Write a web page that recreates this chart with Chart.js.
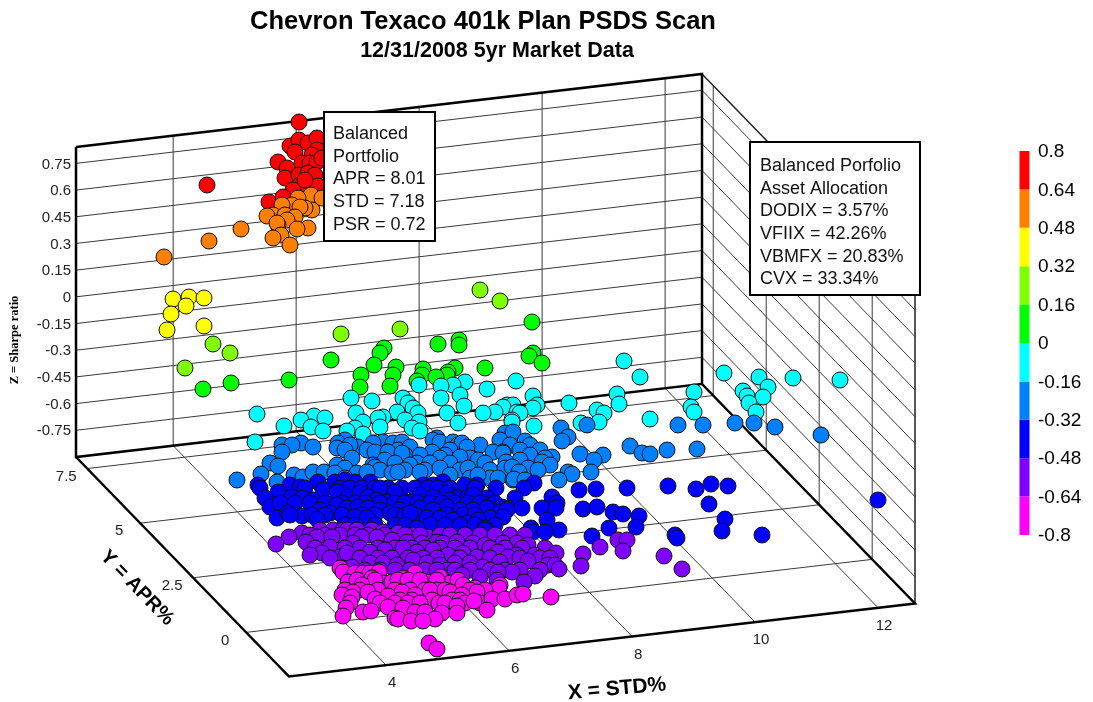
<!DOCTYPE html>
<html>
<head>
<meta charset="utf-8">
<title>Chevron Texaco 401k Plan PSDS Scan</title>
<script src="https://cdn.jsdelivr.net/npm/chart.js@4"></script>
<style>
html, body { margin: 0; padding: 0; background: #fff; }
canvas { display: block; }
</style>
</head>
<body>
<canvas id="scan" width="1093" height="702"></canvas>
<script>
// tick labels of the three axes
var xTicks = [4, 6, 8, 10, 12];
var yTicks = [0, 2.5, 5, 7.5];
var zTicks = [0.75, 0.6, 0.45, 0.3, 0.15, 0, -0.15, -0.3, -0.45, -0.6, -0.75];

// colour scale
var bandLabels = ['0.8', '0.64', '0.48', '0.32', '0.16', '0', '-0.16', '-0.32', '-0.48', '-0.64', '-0.8'];
var bandColors = ['#ff0000', '#ff8000', '#ffff00', '#80ff00', '#00ff00', '#00ffff', '#0080ff', '#0000ff', '#8000ff', '#ff00ff'];

// portfolios as they sit on the projected plane, one list per colour band
var redPoints = [[299,122],[207,185],[290,146],[299,140],[308,143],[317,138],[295,152],[317,150],[312,155],[278,162],[287,168],[302,163],[310,163],[317,162],[322,158],[285,178],[299,175],[308,173],[315,175],[300,185],[318,186],[293,190],[305,180],[269,202],[283,197]];
var orangePoints = [[164,257],[209,241],[241,229],[311,195],[322,198],[298,198],[292,205],[282,205],[312,210],[305,208],[300,207],[273,215],[285,215],[295,217],[267,216],[287,220],[278,225],[277,223],[281,235],[308,228],[297,229],[273,238],[290,245]];
var yellowPoints = [[189,297],[204,298],[173,299],[186,306],[171,314],[204,326],[167,330]];
var limePoints = [[480,290],[500,301],[341,334],[400,329],[213,344],[230,353],[185,368]];
var greenPoints = [[532,322],[459,340],[459,345],[438,344],[384,348],[380,353],[331,360],[374,365],[533,353],[529,356],[542,363],[396,367],[393,375],[455,368],[448,372],[447,375],[485,368],[423,369],[422,375],[436,377],[361,375],[289,380],[417,381],[231,383],[390,386],[360,387],[203,389]];
var cyanPoints = [[624,361],[724,373],[840,380],[793,378],[759,377],[640,377],[768,387],[743,391],[516,381],[465,382],[453,385],[419,385],[441,386],[487,389],[617,394],[694,392],[747,396],[763,397],[533,396],[460,395],[351,398],[441,398],[372,401],[403,398],[408,403],[569,403],[749,403],[619,404],[507,405],[513,405],[537,405],[464,406],[503,407],[533,408],[413,408],[691,407],[597,410],[694,412],[756,412],[495,412],[517,412],[483,413],[397,412],[447,413],[356,413],[257,414],[418,413],[604,413],[520,413],[314,416],[383,417],[378,418],[325,418],[301,420],[650,419],[405,420],[419,422],[512,420],[512,422],[599,422],[581,423],[363,422],[458,423],[284,426],[380,427],[534,426],[311,427],[355,428],[412,428],[323,431],[347,431],[420,431],[363,434],[255,442]];
var azurePoints = [[587,425],[561,428],[678,425],[703,425],[735,423],[754,423],[775,427],[505,433],[513,432],[821,435],[568,437],[562,441],[525,441],[437,438],[433,440],[440,442],[345,440],[383,442],[393,443],[402,442],[373,443],[301,443],[282,445],[292,445],[453,442],[458,445],[462,443],[500,440],[510,445],[480,445],[530,445],[630,446],[282,452],[313,447],[338,443],[337,448],[358,447],[350,445],[345,450],[367,450],[387,452],[375,452],[398,450],[410,447],[450,450],[432,452],[467,447],[520,450],[540,450],[642,453],[650,454],[667,450],[697,449],[580,454],[603,455],[552,457],[545,458],[530,455],[503,452],[493,452],[503,453],[405,455],[388,452],[402,453],[445,455],[470,458],[440,458],[594,460],[420,455],[352,458],[460,457],[478,460],[520,460],[385,460],[542,462],[506,462],[270,463],[278,466],[337,465],[395,463],[417,463],[430,463],[450,463],[485,463],[410,465],[550,465],[373,465],[375,467],[425,470],[490,470],[261,474],[294,475],[303,477],[313,472],[324,472],[345,468],[380,470],[405,470],[440,468],[460,470],[468,468],[505,468],[512,467],[528,468],[538,470],[519,472],[335,473],[357,473],[367,472],[392,473],[398,472],[420,472],[450,475],[345,478],[470,478],[490,478],[478,475],[498,478],[513,480],[514,479],[525,480],[568,472],[572,474],[591,472],[559,480],[237,480],[277,482]];
var bluePoints = [[258,485],[260,488],[290,485],[300,487],[278,492],[318,482],[335,482],[345,480],[355,482],[370,482],[423,485],[433,485],[443,482],[465,485],[477,485],[496,488],[534,483],[524,488],[305,488],[340,488],[350,488],[362,488],[375,488],[388,488],[402,488],[415,488],[428,488],[438,488],[450,488],[475,488],[579,490],[596,489],[627,488],[668,486],[696,489],[711,484],[728,486],[380,488],[323,490],[265,498],[292,497],[303,498],[337,492],[348,497],[360,493],[368,497],[395,492],[420,495],[433,497],[447,493],[457,498],[468,497],[473,495],[487,498],[515,498],[552,497],[878,500],[270,507],[313,500],[377,500],[387,502],[410,502],[450,500],[483,503],[280,503],[295,503],[310,503],[325,503],[342,503],[355,503],[365,503],[380,503],[395,503],[405,503],[418,503],[430,503],[442,503],[455,503],[468,503],[480,503],[495,503],[557,503],[709,504],[337,505],[347,508],[358,507],[368,508],[420,508],[447,507],[487,508],[502,507],[508,508],[522,508],[583,509],[597,507],[542,508],[556,508],[277,518],[288,513],[302,516],[320,510],[330,513],[380,510],[390,513],[400,510],[433,510],[460,510],[473,510],[500,512],[507,510],[613,512],[623,514],[639,516],[290,515],[312,515],[325,515],[342,515],[362,515],[375,515],[395,515],[405,515],[415,515],[447,515],[463,515],[475,515],[490,518],[503,517],[317,519],[355,517],[367,518],[410,513],[427,518],[440,518],[453,520],[478,520],[725,519],[547,520],[467,523],[345,525],[355,525],[375,525],[395,525],[405,525],[430,525],[445,525],[460,525],[475,525],[495,525],[636,527],[609,528],[485,528],[417,528],[531,528],[533,532],[559,530],[722,531],[485,530],[545,532],[592,536],[675,535],[677,538],[762,535]];
var violetPoints = [[320,530],[333,530],[343,530],[347,530],[357,530],[372,530],[383,532],[398,533],[413,535],[428,537],[302,533],[310,535],[325,535],[340,535],[355,535],[368,535],[385,535],[405,535],[420,535],[440,535],[450,535],[465,535],[480,535],[495,535],[510,535],[525,535],[317,537],[332,537],[362,537],[377,537],[392,540],[407,542],[422,543],[437,542],[443,543],[457,542],[473,543],[485,545],[503,543],[517,543],[528,545],[289,537],[306,542],[276,544],[330,547],[353,543],[315,548],[345,548],[360,548],[378,548],[395,548],[412,548],[425,548],[440,548],[455,548],[470,548],[490,548],[505,548],[522,548],[545,548],[385,550],[403,548],[433,550],[370,552],[417,552],[463,553],[498,552],[535,555],[517,555],[556,553],[340,557],[347,553],[322,553],[310,555],[448,555],[477,557],[508,557],[583,554],[600,547],[618,540],[627,540],[623,551],[664,556],[330,558],[360,558],[378,558],[392,558],[408,558],[423,558],[437,558],[460,558],[490,558],[520,558],[540,558],[550,558],[370,563],[383,563],[413,560],[427,563],[455,563],[470,563],[500,562],[528,561],[352,567],[397,565],[440,565],[483,567],[548,565],[555,565],[559,569],[581,566],[682,569],[447,570],[365,570],[380,570],[395,570],[410,570],[425,570],[437,570],[455,570],[470,570],[490,570],[505,570],[520,570],[540,570],[512,572],[498,572],[462,575],[535,576],[480,577],[497,580],[524,582]];
var magentaPoints = [[340,568],[343,572],[355,573],[363,573],[370,573],[379,572],[415,573],[440,577],[372,578],[403,578],[348,582],[383,583],[392,582],[415,583],[427,582],[450,583],[357,580],[375,580],[398,580],[408,580],[420,580],[437,580],[458,580],[362,585],[463,585],[500,585],[475,588],[499,588],[425,590],[437,590],[345,590],[360,590],[378,590],[395,590],[410,590],[430,590],[445,590],[470,590],[485,590],[353,592],[368,592],[402,592],[450,592],[477,592],[342,595],[415,595],[462,595],[352,597],[388,596],[375,599],[400,600],[412,600],[432,600],[452,600],[460,600],[439,603],[350,603],[380,603],[395,603],[408,603],[420,603],[445,603],[465,603],[480,603],[474,601],[492,599],[505,599],[517,595],[523,594],[551,597],[388,607],[403,608],[457,606],[346,608],[363,612],[371,611],[415,612],[425,612],[487,610],[442,613],[457,613],[343,616],[395,618],[398,619],[435,619],[411,621],[423,621],[429,643],[437,649]];

// axis limits of the box
var xRange = [2.42, 12.6];
var yRange = [-2.02, 8.03];
var zRange = [-0.9, 0.842];

function project(x, y, z) {
    var u = (x - xRange[0]) / (xRange[1] - xRange[0]);
    var v = (y - yRange[0]) / (yRange[1] - yRange[0]);
    var w = (z - zRange[0]) / (zRange[1] - zRange[0]);
    return {
        x: 289 + u * 626 - v * 213,
        y: 676.5 - u * 73 - v * 219.5 - w * 310
    };
}

// joins box corners into one path, NaN breaks the line between segments
function path(corners) {
    var out = [];
    corners.forEach(function(seg) {
        seg.forEach(function(c) {
            out.push(project(c[0], c[1], c[2]));
        });
        out.push({ x: NaN, y: NaN });
    });
    return out;
}

var x0 = xRange[0], x1 = xRange[1], y0 = yRange[0], y1 = yRange[1], z0 = zRange[0], z1 = zRange[1];

var gridSegs = [];
xTicks.forEach(function(t) {
    gridSegs.push([[t, y0, z0], [t, y1, z0], [t, y1, z1]]);
});
yTicks.forEach(function(t) {
    gridSegs.push([[x0, t, z0], [x1, t, z0], [x1, t, z1]]);
});
zTicks.forEach(function(t) {
    gridSegs.push([[x0, y1, t], [x1, y1, t], [x1, y0, t]]);
});

var heavySegs = [
    [[x0, y1, z1], [x0, y1, z0], [x1, y1, z0], [x1, y1, z1], [x0, y1, z1]],
    [[x0, y1, z0], [x0, y0, z0], [x1, y0, z0], [x1, y1, z0]]
];
var lightSegs = [
    [[x1, y1, z1], [x1, y0, z1], [x1, y0, z0]]
];

function scatterBand(points, color, order) {
    return {
        type: 'scatter',
        data: points.map(function(p) { return { x: p[0], y: p[1] }; }),
        backgroundColor: color,
        borderColor: '#111',
        borderWidth: 1,
        pointRadius: 8,
        order: order
    };
}

function lineSet(segs, color, width, order) {
    return {
        type: 'scatter',
        data: path(segs),
        showLine: true,
        spanGaps: false,
        borderColor: color,
        borderWidth: width,
        pointRadius: 0,
        order: order
    };
}

var datasets = [
    lineSet(gridSegs, '#3a3a3a', 1, 20),
    lineSet(lightSegs, '#222', 1.5, 19),
    lineSet(heavySegs, '#000', 2.5, 18),
    scatterBand(redPoints, bandColors[0], 10),
    scatterBand(orangePoints, bandColors[1], 9),
    scatterBand(yellowPoints, bandColors[2], 8),
    scatterBand(limePoints, bandColors[3], 7),
    scatterBand(greenPoints, bandColors[4], 6),
    scatterBand(cyanPoints, bandColors[5], 5),
    scatterBand(azurePoints, bandColors[6], 4),
    scatterBand(bluePoints, bandColors[7], 3),
    scatterBand(violetPoints, bandColors[8], 2),
    scatterBand(magentaPoints, bandColors[9], 1)
];

// colour bar, one thick segment per band
var barTop = 151, barStep = 38.4;
bandColors.forEach(function(c, i) {
    datasets.push({
        type: 'scatter',
        data: [{ x: 1024.5, y: barTop + i * barStep }, { x: 1024.5, y: barTop + (i + 1) * barStep }],
        showLine: true,
        borderColor: c,
        borderWidth: 10,
        borderCapStyle: 'butt',
        pointRadius: 0,
        order: 30
    });
});

function drawBox(ctx, left, top, right, bottom, lines, textX, firstY, stepY) {
    ctx.fillStyle = '#fff';
    ctx.fillRect(left, top, right - left, bottom - top);
    ctx.strokeStyle = '#000';
    ctx.lineWidth = 2;
    ctx.strokeRect(left, top, right - left, bottom - top);
    ctx.fillStyle = '#111';
    ctx.font = '18px "Liberation Sans"';
    ctx.textAlign = 'left';
    ctx.textBaseline = 'middle';
    lines.forEach(function(s, i) {
        ctx.fillText(s, textX, firstY + i * stepY);
    });
}

function rotated(ctx, text, x, y, angle, font) {
    ctx.save();
    ctx.translate(x, y);
    ctx.rotate(angle);
    ctx.font = font;
    ctx.textAlign = 'center';
    ctx.textBaseline = 'middle';
    ctx.fillText(text, 0, 0);
    ctx.restore();
}

var labelsPlugin = {
    id: 'labels',
    afterDraw: function(chart) {
        var ctx = chart.ctx;
        ctx.save();
        ctx.fillStyle = '#000';
        rotated(ctx, 'Chevron Texaco 401k Plan PSDS Scan', 483, 22, 0, 'bold 25.5px "Liberation Sans"');
        rotated(ctx, '12/31/2008 5yr Market Data', 497, 51, 0, 'bold 21.5px "Liberation Sans"');

        ctx.fillStyle = '#222';
        ctx.font = '15px "Liberation Sans"';
        ctx.textBaseline = 'middle';
        ctx.textAlign = 'right';
        zTicks.forEach(function(t) {
            var p = project(x0, y1, t);
            ctx.fillText(String(t), p.x - 5, p.y + 1);
        });
        ctx.textAlign = 'center';
        xTicks.forEach(function(t) {
            var p = project(t, y0, z0);
            ctx.fillText(String(t), p.x + 6, p.y + 18);
        });
        yTicks.forEach(function(t) {
            var p = project(x0, t, z0);
            ctx.fillText(String(t), p.x - 21, p.y + 8);
        });

        ctx.fillStyle = '#000';
        rotated(ctx, 'X = STD%', 617, 689, -0.09, 'bold 21px "Liberation Sans"');
        rotated(ctx, 'Y = APR%', 137, 588, 0.8, 'bold 20px "Liberation Sans"');
        rotated(ctx, 'Z = Sharpe ratio', 15, 340, -Math.PI / 2, 'bold 12.5px "Liberation Serif"');

        ctx.font = '19px "Liberation Sans"';
        ctx.textAlign = 'left';
        bandLabels.forEach(function(s, i) {
            ctx.fillText(s, 1038, barTop + 1 + i * barStep);
        });

        drawBox(ctx, 324, 112, 435, 241, ['Balanced', 'Portfolio', 'APR = 8.01', 'STD = 7.18', 'PSR = 0.72'], 333, 134, 22.7);
        drawBox(ctx, 750, 142, 920, 295, ['Balanced Porfolio', 'Asset Allocation', 'DODIX = 3.57%', 'VFIIX = 42.26%', 'VBMFX = 20.83%', 'CVX = 33.34%'], 760, 166, 22.7);
        ctx.restore();
    }
};

new Chart(document.getElementById('scan').getContext('2d'), {
    data: { datasets: datasets },
    plugins: [labelsPlugin],
    options: {
        responsive: false,
        animation: false,
        layout: { padding: 0, autoPadding: false },
        clip: false,
        plugins: {
            legend: { display: false },
            tooltip: { enabled: false }
        },
        scales: {
            x: { type: 'linear', display: false, min: 0, max: 1093 },
            y: { type: 'linear', display: false, min: 0, max: 702, reverse: true }
        }
    }
});
</script>
</body>
</html>
